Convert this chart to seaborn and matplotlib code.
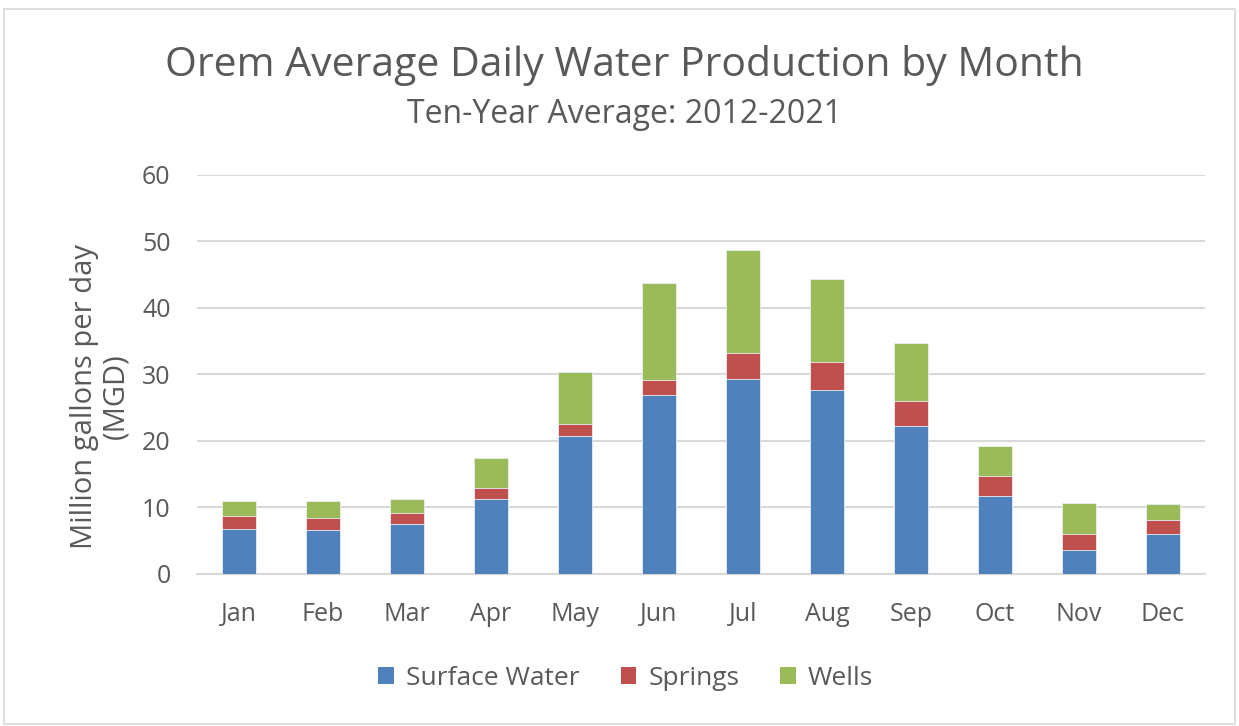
import numpy as np
import pandas as pd
import matplotlib.pyplot as plt
import seaborn as sns
from matplotlib.patches import Patch, Rectangle

# values (million gallons per day)
months = ["Jan", "Feb", "Mar", "Apr", "May", "Jun", "Jul", "Aug", "Sep", "Oct", "Nov", "Dec"]
surface_water = [6.7, 6.6, 7.5, 11.3, 20.8, 26.9, 29.3, 27.6, 22.3, 11.8, 3.6, 5.95]
springs = [2.0, 1.8, 1.65, 1.6, 1.7, 2.3, 4.0, 4.3, 3.7, 3.0, 2.45, 2.1]
wells = [2.3, 2.6, 2.15, 4.5, 7.85, 14.5, 15.4, 12.5, 8.8, 4.5, 4.65, 2.5]

series = ["Surface Water", "Springs", "Wells"]
colors = ["#4F81BD", "#C0504D", "#9BBB59"]
text_color = "#595959"

sns.set_theme(style="white")
plt.rcParams["font.family"] = ["Open Sans", "DejaVu Sans"]

df = pd.DataFrame({"month": months, "Surface Water": surface_water,
                   "Springs": springs, "Wells": wells})
# cumulative tops so the stacked bars can be drawn back to front
df["top_springs"] = df["Surface Water"] + df["Springs"]
df["top_wells"] = df["top_springs"] + df["Wells"]

fig = plt.figure(figsize=(12.39, 7.26), dpi=100)
ax = fig.add_axes([0.159, 0.2094, 0.8136, 0.5496])

for col, color in zip(["top_wells", "top_springs", "Surface Water"], colors[::-1]):
    sns.barplot(data=df, x="month", y=col, color=color, width=0.4, ax=ax,
                saturation=1, edgecolor="#E8EEF6", linewidth=0.6, zorder=3)

ax.set_ylim(0, 60)
ax.set_yticks(range(0, 61, 10))
ax.yaxis.grid(True, color="#D9D9D9", linewidth=1.5, zorder=0)
ax.xaxis.grid(False)
for side in ["top", "right", "left"]:
    ax.spines[side].set_visible(False)
ax.spines["bottom"].set_color("#D9D9D9")
ax.spines["bottom"].set_linewidth(1.5)
ax.tick_params(axis="both", length=0, labelsize=18, colors=text_color)
ax.tick_params(axis="x", pad=20)
ax.tick_params(axis="y", pad=19)
ax.set_xlabel("")
ax.set_ylabel("Million gallons per day\n(MGD)", fontsize=21, color=text_color,
              linespacing=1.1)
# the label sits a bit below the middle of the axis in the original
ax.yaxis.set_label_coords(-0.0665, 0.446)

fig.text(0.504, 0.895, "Orem Average Daily Water Production by Month",
         ha="center", va="baseline", fontsize=29.5, color=text_color)
fig.text(0.504, 0.831, "Ten-Year Average: 2012-2021",
         ha="center", va="baseline", fontsize=23, color=text_color)

handles = [Patch(facecolor=c, edgecolor="none") for c in colors]
fig.legend(handles, series, loc="center", bbox_to_anchor=(0.505, 0.066), ncol=3,
           frameon=False, fontsize=19, labelcolor=text_color, handlelength=0.6,
           handleheight=0.6, columnspacing=1.55, handletextpad=0.45)

# light chart-area border like the original export
fig.patches.append(Rectangle((0.003, 0.003), 0.994, 0.985, transform=fig.transFigure,
                             fill=False, edgecolor="#D9D9D9", linewidth=1.2))

fig.savefig("out.png", dpi=100)
